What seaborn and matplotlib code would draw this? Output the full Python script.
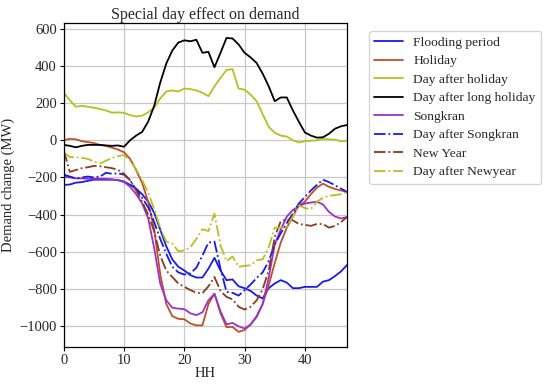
import numpy as np
import pandas as pd
import matplotlib
matplotlib.use("Agg")
import matplotlib.pyplot as plt
import seaborn as sns

hh = list(range(48))

flooding = [-240, -238, -228, -225, -218, -212, -212, -212, -212, -214, -222, -240,
            -260, -290, -330, -390, -480, -570, -640, -680, -700, -725, -738, -738,
            -690, -632, -700, -752, -748, -785, -795, -810, -835, -850, -795, -770,
            -752, -765, -795, -795, -788, -788, -788, -760, -752, -730, -705, -670]
holiday = [0, 8, 5, -5, -10, -15, -25, -30, -40, -50, -65, -100,
           -160, -230, -330, -480, -720, -880, -945, -960, -962, -985, -995, -995,
           -880, -825, -930, -1005, -1003, -1030, -1020, -990, -950, -880, -780, -660,
           -550, -470, -410, -350, -330, -290, -255, -233, -250, -262, -270, -278]
day_after_holiday = [255, 215, 180, 185, 180, 175, 168, 160, 148, 150, 147, 135,
                     128, 132, 150, 175, 225, 262, 268, 262, 278, 275, 268, 255,
                     237, 290, 335, 378, 382, 278, 272, 245, 210, 140, 72, 40,
                     25, 20, 0, -12, -5, -3, 0, 8, 5, 3, -5, -3]
day_after_long_holiday = [-25, -30, -38, -30, -25, -25, -25, -28, -30, -28, -35, 0,
                          25, 45, 100, 185, 310, 412, 482, 525, 537, 532, 540, 470,
                          475, 392, 470, 550, 547, 515, 470, 445, 415, 358, 290, 210,
                          230, 230, 161, 100, 42, 25, 14, 16, 35, 62, 75, 82]
songkran = [-197, -200, -205, -205, -207, -207, -207, -207, -210, -215, -225, -250,
            -290, -340, -420, -580, -770, -860, -900, -905, -908, -930, -940, -925,
            -860, -825, -920, -990, -982, -1000, -1012, -990, -945, -880, -740, -560,
            -480, -410, -375, -355, -340, -335, -330, -345, -385, -410, -420, -413]
day_after_songkran = [-185, -195, -205, -200, -195, -200, -195, -175, -180, -178, -185, -215,
                      -265, -310, -360, -440, -530, -610, -680, -710, -722, -715, -685, -620,
                      -550, -545, -690, -815, -820, -835, -806, -775, -740, -710, -650, -560,
                      -500, -445, -395, -340, -305, -270, -240, -212, -225, -242, -260, -278]
new_year = [-55, -170, -160, -150, -145, -138, -140, -145, -150, -160, -180, -215,
            -270, -330, -400, -490, -620, -700, -735, -770, -788, -805, -820, -822,
            -785, -735, -810, -842, -855, -895, -910, -895, -860, -800, -700, -520,
            -435, -425, -430, -450, -455, -460, -450, -450, -470, -460, -440, -412]
day_after_newyear = [-65, -90, -92, -95, -100, -115, -125, -110, -95, -85, -80, -110,
                     -155, -215, -280, -370, -470, -545, -555, -597, -592, -575, -530, -478,
                     -488, -395, -565, -650, -625, -680, -675, -672, -645, -640, -575, -470,
                     -470, -470, -410, -350, -365, -370, -330, -310, -298, -295, -290, -278]

series = [
    ("Flooding period", flooding, "#1a1ae6", "-"),
    ("Holiday", holiday, "#c0502a", "-"),
    ("Day after holiday", day_after_holiday, "#b5c022", "-"),
    ("Day after long holiday", day_after_long_holiday, "#000000", "-"),
    ("Songkran", songkran, "#9b30d0", "-"),
    ("Day after Songkran", day_after_songkran, "#1a1ae6", "-."),
    ("New Year", new_year, "#8b3a1a", "-."),
    ("Day after Newyear", day_after_newyear, "#b5c022", "-."),
]

sns.set_style("whitegrid")
plt.rcParams['font.family'] = ['Liberation Serif', 'DejaVu Serif']

fig = plt.figure(figsize=(5.5, 3.84), dpi=100)
ax = fig.add_axes([0.116, 0.096, 0.515, 0.844])

for name, vals, color, ls in series:
    df = pd.DataFrame({"HH": hh, "val": vals})
    sns.lineplot(data=df, x="HH", y="val", ax=ax, color=color, linestyle=ls,
                 linewidth=1.3, label=name)

ax.set_xlim(0, 47)
ax.set_ylim(-1112, 630)
ax.set_xticks([0, 10, 20, 30, 40])
ax.set_yticks(list(range(-1000, 601, 200)))
ax.set_xlabel("HH", fontsize=10.5, labelpad=0)
ax.set_ylabel("Demand change (MW)", fontsize=10.5, labelpad=3)
ax.set_title("Special day effect on demand", fontsize=11.5, pad=3)
ax.tick_params(axis='both', labelsize=10.5, length=3, color='black', left=True, bottom=True, pad=2)
ax.grid(True, color='#c8c8c8', linewidth=0.9)
for sp in ax.spines.values():
    sp.set_color('black')
    sp.set_linewidth(0.9)

ax.legend(loc='upper left', bbox_to_anchor=(369 / 550, 1 - 31 / 384),
          bbox_transform=fig.transFigure, borderaxespad=0, fontsize=9.7,
          frameon=True, edgecolor='#cccccc', fancybox=True, handlelength=2.1,
          handletextpad=0.8, labelspacing=0.45)

fig.savefig("out.png", dpi=100)
